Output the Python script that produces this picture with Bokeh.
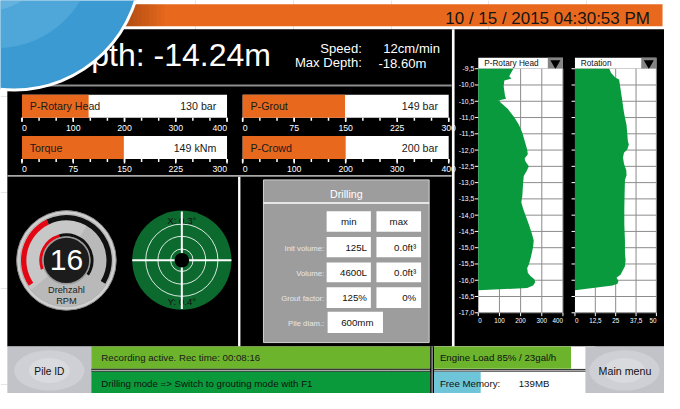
import numpy as np
from bokeh.plotting import figure
from bokeh.models import Range1d
from bokeh.core.properties import value
from bokeh.embed import file_html
from bokeh.resources import INLINE

# ---------------- data ----------------
header_date = "10 / 15 / 2015 04:30:53 PM"
depth_text = "Depth: -14.24m"
speed_label = "Speed:"
speed_value = "12cm/min"
max_depth_label = "Max Depth:"
max_depth_value = "-18.60m"

gauge_names = ["P-Rotary Head", "Torque", "P-Grout", "P-Crowd"]
gauge_values = [130, 149, 149, 200]
gauge_units = ["bar", "kNm", "bar", "bar"]
gauge_max = [400, 300, 300, 400]
gauge_tick_labels = [
    ["0", "100", "200", "300", "400"],
    ["0", "75", "150", "225", "300"],
    ["0", "75", "150", "225", "300"],
    ["0", "100", "200", "300", "400"],
]

rpm_value = 16
rpm_max = 40
rpm_labels = ["Drehzahl", "RPM"]
tilt_labels = ["X: 0.3°", "Y: 0.4°"]

drill_title = "Drilling"
drill_cols = ["min", "max"]
drill_rows = ["Init volume:", "Volume:", "Grout factor:", "Pile diam.:"]
drill_min = ["125L", "4600L", "125%", "600mm"]
drill_max = ["0.0ft³", "0.0ft³", "0%", ""]

depth_ticks = [-9.5, -10.0, -10.5, -11.0, -11.5, -12.0, -12.5, -13.0, -13.5,
               -14.0, -14.5, -15.0, -15.5, -16.0, -16.5, -17.0]
depth_tick_labels = ["-9,5", "-10,0", "-10,5", "-11,0", "-11,5", "-12,0", "-12,5", "-13,0",
                     "-13,5", "-14,0", "-14,5", "-15,0", "-15,5", "-16,0", "-16,5", "-17,0"]

prh_title = "P-Rotary Head"
prh_ticks = [0, 100, 200, 300, 400]
prh_tick_labels = ["0", "100", "200", "300", "400"]
prh_depth = [-9.50, -9.60, -9.73, -9.80, -9.86, -10.04, -10.32, -10.42, -10.48, -10.55,
             -10.73, -10.98, -11.22, -11.47, -11.71, -11.98, -12.13, -12.26, -12.35, -12.50,
             -12.65, -12.80, -12.99, -13.41, -13.60, -13.80, -14.00, -14.29, -14.59, -14.78,
             -14.98, -15.28, -15.52, -15.62, -15.77, -15.87, -15.97, -16.06, -16.16, -16.24]
prh_value = [166, 157, 146, 157, 123, 120, 126, 131, 95, 108,
             139, 169, 192, 208, 219, 231, 234, 219, 223, 239,
             228, 215, 212, 208, 203, 212, 223, 239, 254, 262,
             259, 249, 239, 231, 234, 246, 265, 269, 259, 231]
prh_bottom = -16.31

rot_title = "Rotation"
rot_ticks = [0, 12.5, 25, 37.5, 50]
rot_tick_labels = ["0", "12,5", "25", "37,5", "50"]
rot_depth = [-9.50, -9.62, -9.77, -9.83, -9.96, -10.36, -10.85, -11.24, -11.49, -11.73,
             -11.83, -11.98, -12.08, -12.23, -12.42, -12.62, -12.77, -12.92, -13.31, -13.80,
             -14.29, -14.78, -15.18, -15.38, -15.57, -15.72, -15.82, -15.92, -16.02, -16.11, -16.16]
rot_value = [21.1, 22.1, 24.7, 27.1, 27.5, 28.7, 30.1, 31.7, 32.1, 32.5,
             33.1, 32.1, 30.1, 29.5, 30.1, 31.5, 31.7, 30.7, 30.5, 30.3,
             30.3, 30.7, 30.7, 31.1, 30.7, 29.1, 28.1, 25.5, 26.7, 26.1, 23.1]
rot_bottom = -16.31

status_rec = "Recording active. Rec time: 00:08:16"
status_mode = "Drilling mode => Switch to grouting mode with F1"
engine_load_pct = 85
engine_text = "Engine Load 85% / 23gal/h"
free_mem_label = "Free Memory:"
free_mem_mb = 139
mem_total_mb = 480
button_left = "Pile ID"
button_right = "Main menu"

# ---------------- styles ----------------
ORANGE = "#e8691e"
GREEN = "#0a9a3e"
F = value("Liberation Sans")
FS = 0.97  # font scale (canvas is drawn slightly smaller than the 680x409 layout)

p = figure(width=664, height=393, x_range=Range1d(0, 680), y_range=Range1d(409, 0),
           output_backend="svg", toolbar_location=None, min_border=0,
           x_axis_location=None, y_axis_location=None)
p.outline_line_color = None
p.background_fill_color = "white"
p.border_fill_color = "white"


def T(t, x, y, s, size, color="white", align="left", **kw):
    xs = list(x) if isinstance(x, (list, tuple, np.ndarray)) else [x]
    ys = list(y) if isinstance(y, (list, tuple, np.ndarray)) else [y] * len(xs)
    ss = list(s) if isinstance(s, (list, tuple)) else [s] * len(xs)
    t.text(x=xs, y=ys, text=ss, text_font=F, text_font_size=f"{size * FS:.2f}px",
           text_color=color, text_align=align, text_baseline="middle", **kw)


def R(t, l, top, r, b, color, **kw):
    kw.setdefault("line_color", None)
    t.quad(left=[l], right=[r], top=[top], bottom=[b], fill_color=color, **kw)


# ---------------- header ----------------
R(p, 118, 4, 678, 26.7, ORANGE)
for k in range(12):
    R(p, 120 + k * 4, 4, 124 + k * 4, 26.7, "#5a2200", fill_alpha=0.45 * (1 - k / 12))
T(p, 665, 19, header_date, 17.5, "#151515", "right")

R(p, 7, 30, 680, 360, "black")
T(p, 277, 56.5, depth_text, 33, "white", "right")
T(p, 370, 50, speed_label, 13.5, "white", "right")
T(p, 370, 65, max_depth_label, 13.5, "white", "right")
T(p, 392, 50, speed_value, 13.5, "white")
T(p, 387, 65.5, max_depth_value, 13.5, "white")

R(p, 7, 87.5, 462, 89.5, "#8d8d8d")
R(p, 7, 181.5, 462, 183.5, "#a8a8a8")
R(p, 243.3, 183.5, 245.7, 360, "white")
R(p, 462.3, 30, 465, 360, "white")

# ---------------- bar gauges ----------------
gauge_boxes = [(22, 232, 98, 122), (22, 232, 141, 165), (248, 459, 98, 122), (248, 459, 141, 165)]
last_align = ["right", "right", "center", "center"]
for i, name in enumerate(gauge_names):
    x0, x1, yt, yb = gauge_boxes[i]
    R(p, x0, yt, x1, yb, "white")
    s = p.subplot(x_source=Range1d(0, gauge_max[i]), y_source=Range1d(0, 1),
                  x_target=Range1d(x0, x1), y_target=Range1d(yb, yt))
    s.quad(left=[0], right=[gauge_values[i]], bottom=[0], top=[1], fill_color=ORANGE, line_color=None)
    ticks = np.linspace(0, gauge_max[i], 13)
    major = ticks[::3]
    s.segment(x0=ticks, y0=0, x1=ticks, y1=-0.13, line_color="white", line_width=1.5)
    s.segment(x0=major, y0=0, x1=major, y1=-0.19, line_color="white", line_width=1.5)
    for j, lab in enumerate(gauge_tick_labels[i]):
        al = "left" if j == 0 else (last_align[i] if j == 4 else "center")
        T(s, major[j], 0, lab, 9, "white", al, y_offset=10)
    T(p, x0 + 8, (yt + yb) / 2, name, 11, "#1a1a1a")
    T(p, x1 - 11, (yt + yb) / 2, f"{gauge_values[i]} {gauge_units[i]}", 11, "#1a1a1a", "right")

# ---------------- RPM gauge ----------------
cx, cy = 67.5, 270.5
p.circle(x=[cx], y=[cy], radius=51, fill_color="#cfcfcf", line_color="#8a8a8a", line_width=1)
p.circle(x=[cx], y=[cy], radius=47.5, fill_color="#b9b9b9", line_color="#a5a5a5", line_width=0.5)
p.wedge(x=[cx], y=[cy], radius=47, start_angle=np.deg2rad(60), end_angle=np.deg2rad(220),
        fill_color="#dadada", fill_alpha=0.45, line_color=None)
frac = rpm_value / rpm_max
for (start, sweep, ri, ro) in [(214, 245, 41, 46.5), (200, 234, 24.5, 27.8)]:
    split = start - frac * sweep
    p.annular_wedge(x=[cx], y=[cy], inner_radius=ri, outer_radius=ro,
                    start_angle=np.deg2rad(split), end_angle=np.deg2rad(start),
                    fill_color="#e30613", line_color=None)
    p.annular_wedge(x=[cx], y=[cy], inner_radius=ri, outer_radius=ro,
                    start_angle=np.deg2rad(start - sweep), end_angle=np.deg2rad(split),
                    fill_color="#111111", line_color=None)
p.circle(x=[cx], y=[cy], radius=24, fill_color="#1c1c1c", line_color="#9a9a9a", line_width=1.5)
T(p, cx, cy, str(rpm_value), 31, "white", "center")
T(p, cx, 301.7, rpm_labels[0], 9.5, "#222222", "center")
T(p, cx, 312.3, rpm_labels[1], 9.5, "#222222", "center")

# ---------------- bubble level ----------------
bx, by, br = 185.7, 270.3, 50.8
p.circle(x=[bx], y=[by], radius=br, fill_color="#0d6a2f", line_color=None)
p.circle(x=[bx] * 3, y=[by] * 3, radius=[37, 24.5, 11.5], fill_color=None,
         line_color="white", line_alpha=0.85, line_width=1)
T(p, bx, 229.3, tilt_labels[0], 10, "#111111", "center")
T(p, bx, 313.3, tilt_labels[1], 10, "#111111", "center")
p.segment(x0=[bx - br, bx], y0=[by, by - br], x1=[bx + br, bx], y1=[by, by + br],
          line_color="white", line_width=2)
p.circle(x=[bx], y=[by], radius=7.5, fill_color="black", line_color=None)

# ---------------- drilling table ----------------
R(p, 269.3, 186.7, 439, 356, "#9d9d9d", line_color="#d2d2d2", line_width=1)
T(p, 354.2, 201.7, drill_title, 11, "white", "center")
p.segment(x0=[269.3], y0=[210.7], x1=[439], y1=[210.7], line_color="white", line_width=1.5)
c1, c2 = (334, 379.3), (385, 430.7)
row_y = [(219.3, 240.7), (246, 267.3), (272.7, 293.3), (298.3, 320), (324, 346)]
for k, col in enumerate((c1, c2)):
    R(p, col[0], row_y[0][0], col[1], row_y[0][1], "white")
    T(p, (col[0] + col[1]) / 2, sum(row_y[0]) / 2, drill_cols[k], 10, "#111111", "center")
for r, lab in enumerate(drill_rows):
    yt, yb = row_y[r + 1]
    ym = (yt + yb) / 2
    T(p, 331.5, ym + 1, lab, 8, "#e8e8e8", "right")
    if drill_max[r]:
        R(p, c1[0], yt, c1[1], yb, "white")
        R(p, c2[0], yt, c2[1], yb, "white")
        T(p, c1[1] - 4, ym, drill_min[r], 10, "#111111", "right")
        T(p, c2[1] - 5, ym, drill_max[r], 10, "#111111", "right")
    else:
        R(p, 335, yt, 391.7, yb, "white")
        T(p, 382, ym, drill_min[r], 10, "#111111", "right")


# ---------------- depth profiles ----------------
def profile(x0, x1, ht, yt, yb, title, xmax, ticks, tick_labels, depths, vals, bottom, labels_left):
    hm = (ht + yt) / 2
    R(p, x0, ht, x1, yt, "white")
    R(p, x1 - 15.5, ht, x1, yt, "#858585")
    p.scatter(x=[x1 - 7.75], y=[hm], marker="inverted_triangle", size=10,
              fill_color="black", line_color=None)
    T(p, x0 + 6, hm, title, 8.5, "#111111")
    R(p, x0, yt, x1, yb, "white")
    s = p.subplot(x_source=Range1d(0, xmax), y_source=Range1d(-17.0, -9.5),
                  x_target=Range1d(x0, x1), y_target=Range1d(yb, yt))
    ux = xmax / (x1 - x0)
    uy = 7.5 / (yb - yt)
    s.segment(x0=ticks[1:], y0=-17.0, x1=ticks[1:], y1=-9.5, line_color="#8c8c8c", line_width=1)
    s.segment(x0=0, y0=depth_ticks[1:], x1=xmax, y1=depth_ticks[1:], line_color="#8c8c8c", line_width=1)
    s.patch(x=[0] + vals + [0], y=[depths[0]] + depths + [bottom], fill_color=GREEN, line_color=None)
    s.segment(x0=-3.5 * ux, y0=depth_ticks, x1=0, y1=depth_ticks, line_color="white", line_width=1)
    s.segment(x0=ticks, y0=-17.0, x1=ticks, y1=-17.0 - 3.5 * uy, line_color="white", line_width=1)
    for j, lab in enumerate(tick_labels):
        al = "left" if j == 0 else ("right" if j == len(tick_labels) - 1 else "center")
        T(s, ticks[j], -17.0, lab, 6.5, "white", al, y_offset=8)
    if labels_left:
        T(s, [0] * len(depth_ticks), depth_ticks, depth_tick_labels, 7, "white", "right", x_offset=-4)


profile(489.3, 576, 59.5, 71, 325, prh_title, 400, prh_ticks, prh_tick_labels,
        prh_depth, prh_value, prh_bottom, True)
profile(588.3, 671.7, 59.5, 71, 325, rot_title, 50, rot_ticks, rot_tick_labels,
        rot_depth, rot_value, rot_bottom, False)

# ---------------- bottom bar ----------------
R(p, 7, 360, 93, 409, "#c2c3c9")
p.ellipse(x=[50, 50], y=[385, 385], width=[72, 42], height=[42, 26],
          fill_color=["#cfd0d5", "#d9dadd"], line_color=None)
T(p, 50, 385.7, button_left, 10.5, "#111111", "center")

R(p, 93, 360, 440, 383.3, "#6cb42c")
T(p, 103.3, 371.5, status_rec, 10, "#1a1a1a")
R(p, 93, 383.3, 609, 386.3, "black")
R(p, 93, 384.4, 609, 385.3, "#e0e0e0")
R(p, 93, 386.3, 440, 409, "#0b9a3b")
T(p, 103.3, 398.3, status_mode, 10, "#111111")
R(p, 440, 360, 444, 409, "black")
R(p, 441.5, 360, 442.5, 409, "#e0e0e0")

R(p, 444, 360, 609, 383.3, "white")
R(p, 444, 386.3, 609, 409, "white")
se = p.subplot(x_source=Range1d(0, 100), y_source=Range1d(0, 1),
               x_target=Range1d(444, 609), y_target=Range1d(383.3, 360))
se.quad(left=[0], right=[engine_load_pct], bottom=[0], top=[1], fill_color="#6cb42c", line_color=None)
sm = p.subplot(x_source=Range1d(0, mem_total_mb), y_source=Range1d(0, 1),
               x_target=Range1d(444, 609), y_target=Range1d(409, 386.3))
sm.quad(left=[0], right=[free_mem_mb], bottom=[0], top=[1], fill_color="#6fc5d8", line_color=None)
T(p, 450, 371.7, engine_text, 10, "#111111")
T(p, 450, 398.3, free_mem_label, 10, "#111111")
T(p, 530.7, 398.3, f"{free_mem_mb}MB", 10, "#111111")

R(p, 599, 360, 680, 409, "#c2c3c9")
p.ellipse(x=[639, 639], y=[385, 385], width=[72, 42], height=[42, 26],
          fill_color=["#cfd0d5", "#d9dadd"], line_color=None)
T(p, 639.5, 385.7, button_right, 11, "#111111", "center")

# ---------------- blue badge ----------------
p.circle(x=[14], y=[-39], radius=130, fill_color="#3a9ad1", line_color="white", line_width=3)
p.circle(x=[-4], y=[-52], radius=100, fill_color="#6ab6e0", fill_alpha=0.45, line_color=None)
p.circle(x=[-15], y=[-60], radius=70, fill_color="#8cc8e8", fill_alpha=0.35, line_color=None)

open("out.html", "w").write(file_html(p, INLINE))
